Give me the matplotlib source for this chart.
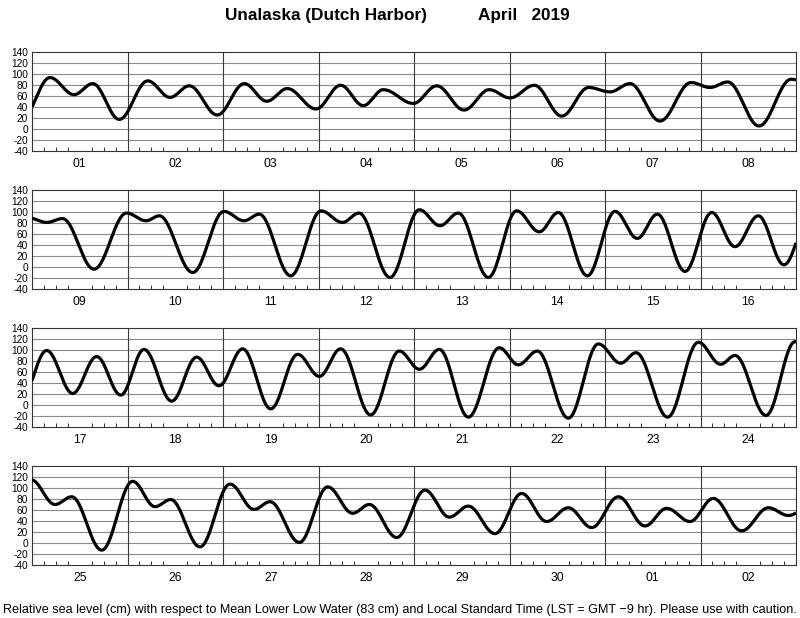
import matplotlib
matplotlib.use("Agg")
import matplotlib.pyplot as plt
import numpy as np

plt.rcParams["font.family"] = ["Liberation Sans", "DejaVu Sans"]

# tide turning points: time in days since Apr 01 00:00 LST, height in cm
week1_t = [-0.10, 0.188, 0.44, 0.636, 0.914, 1.212, 1.445, 1.647, 1.94, 2.223, 2.458, 2.673,
           2.974, 3.232, 3.469, 3.679, 3.993, 4.238, 4.524, 4.788, 5.005, 5.26, 5.547, 5.829,
           6.052, 6.262, 6.576, 6.901, 7.10, 7.285, 7.613, 7.95]
week1_h = [20, 93, 62, 82, 17, 87, 57, 78, 25, 82, 50, 73,
           36, 79, 42, 71, 46, 78, 34, 71, 56, 79, 23, 75,
           67, 82, 14, 84, 75, 85, 5, 90]

week2_t = [8.154, 8.32, 8.649, 8.99, 9.194, 9.333, 9.683, 10.01, 10.22, 10.38, 10.709, 11.026,
           11.25, 11.424, 11.749, 12.056, 12.272, 12.464, 12.778, 13.075, 13.312, 13.511, 13.815,
           14.105, 14.338, 14.548, 14.838, 15.117, 15.361, 15.605, 15.874]
week2_h = [81, 88, -4, 98, 84, 93, -10, 101, 84, 96, -16, 102,
           81, 98, -19, 104, 75, 98, -19, 102, 64, 99, -16,
           101, 52, 96, -8, 99, 37, 93, 4]

week3_t = [16.154, 16.426, 16.677, 16.929, 17.173, 17.463, 17.724, 17.958, 18.206, 18.50,
           18.782, 19.009, 19.232, 19.546, 19.846, 20.056, 20.265, 20.569, 20.893, 21.092,
           21.291, 21.616, 21.93, 22.164, 22.325, 22.656, 22.977, 23.211, 23.361, 23.686, 23.99]
week3_h = [99, 21, 88, 18, 101, 7, 87, 35, 102, -7,
           92, 52, 102, -18, 98, 65, 101, -22, 104, 73,
           98, -24, 111, 76, 95, -22, 114, 74, 90, -19, 115]

week4_t = [24.241, 24.416, 24.73, 25.054, 25.288, 25.452, 25.759, 26.073, 26.325, 26.492,
           26.80, 27.096, 27.358, 27.532, 27.819, 28.115, 28.37, 28.569, 28.848, 29.127,
           29.389, 29.616, 29.861, 30.14, 30.419, 30.646, 30.89, 31.134, 31.431, 31.71, 31.92, 32.20]
week4_h = [70, 84, -13, 112, 66, 79, -7, 107, 61, 75,
           1, 102, 54, 70, 10, 96, 47, 67, 17, 90,
           39, 64, 28, 84, 31, 63, 39, 81, 22, 64, 50, 75]

day_labels = ["01", "02", "03", "04", "05", "06", "07", "08",
              "09", "10", "11", "12", "13", "14", "15", "16",
              "17", "18", "19", "20", "21", "22", "23", "24",
              "25", "26", "27", "28", "29", "30", "01", "02"]
yticks = [-40, -20, 0, 20, 40, 60, 80, 100, 120, 140]

turn_t = np.array(week1_t + week2_t + week3_t + week4_t)
turn_h = np.array(week1_h + week2_h + week3_h + week4_h)


def tide_curve(t):
    # half-cosine between successive high and low waters
    i = np.clip(np.searchsorted(turn_t, t) - 1, 0, len(turn_t) - 2)
    t0, t1 = turn_t[i], turn_t[i + 1]
    h0, h1 = turn_h[i], turn_h[i + 1]
    f = (t - t0) / (t1 - t0)
    return h0 + (h1 - h0) * (1 - np.cos(np.pi * f)) / 2


fig = plt.figure(figsize=(8.0, 6.18), dpi=100)
bottoms = [0.7561, 0.5324, 0.3091, 0.0858]

for k, bottom in enumerate(bottoms):
    ax = fig.add_axes([0.04, bottom, 0.955, 0.1602])
    start = 8 * k
    t = np.linspace(start, start + 8, 2000)
    ax.plot(t, tide_curve(t), color="black", lw=2.3, solid_capstyle="butt", zorder=3)

    ax.set_xlim(start, start + 8)
    ax.set_ylim(-40, 140)
    for y in yticks[1:-1]:
        ax.axhline(y, color="#8a8a8a", lw=0.8, zorder=1)
    for d in range(1, 8):
        ax.axvline(start + d, color="#3a3a3a", lw=0.8, zorder=1)

    ax.set_yticks(yticks)
    ax.set_yticklabels([str(v) for v in yticks], fontsize=7.3)
    ax.tick_params(axis="y", length=0, pad=3)

    ax.set_xticks([start + d + 0.5 for d in range(8)])
    ax.set_xticklabels(day_labels[start:start + 8], fontsize=8.7)
    ax.tick_params(axis="x", which="major", length=0, pad=5)
    minor = [start + d + h / 24 for d in range(8) for h in range(3, 24, 3)]
    ax.set_xticks(minor, minor=True)
    ax.tick_params(axis="x", which="minor", direction="in", length=3, width=0.7, color="#333333")

    for s in ax.spines.values():
        s.set_linewidth(0.8)
        s.set_color("#333333")

fig.text(0.281, 0.975, "Unalaska (Dutch Harbor)", fontsize=12.4, fontweight="bold", ha="left", va="center")
fig.text(0.597, 0.975, "April   2019", fontsize=12.3, fontweight="bold", ha="left", va="center")
fig.text(0.5, 0.013,
         "Relative sea level (cm) with respect to Mean Lower Low Water (83 cm) and Local Standard Time (LST = GMT \u22129 hr). Please use with caution.",
         fontsize=9.1, ha="center", va="center")

fig.savefig("out.png", dpi=100)
